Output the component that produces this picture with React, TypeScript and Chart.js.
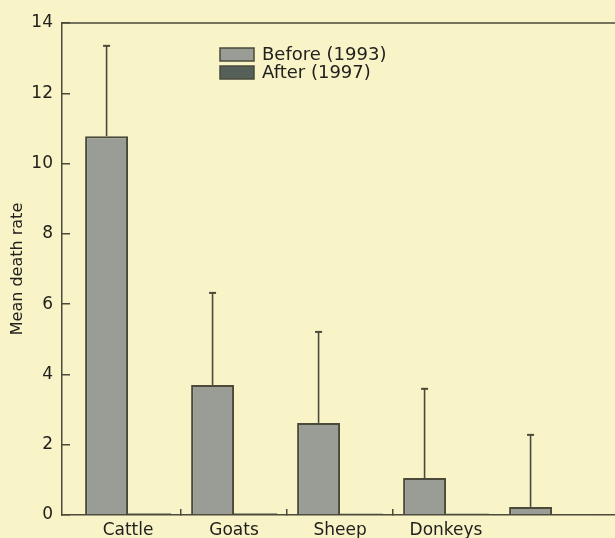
import React, { useEffect, useRef } from 'react';
import { Chart, registerables } from 'chart.js';

Chart.register(...registerables);

const categories = ['Cattle', 'Goats', 'Sheep', 'Donkeys', ''];
const seriesLabels = ['Before (1993)', 'After (1997)'];
const beforeValues = [10.78, 3.7, 2.62, 1.05, 0.23];
const beforeErrorTops = [13.35, 6.32, 5.21, 3.59, 2.28];
const afterValues = [0.05, 0.05, 0.04, 0.04, 0.03];
const yTicks = [0, 2, 4, 6, 8, 10, 12, 14];
const categoryBoundaries = [1, 2, 3];

const BG = '#f8f4c8';
const AXIS = '#4a493a';
const TEXT = '#22211d';
const BEFORE_FILL = '#9a9d96';
const AFTER_FILL = '#56605a';
const FONT = 'DejaVu Sans';

const X_MIN = -0.123;
const X_MAX = 5.094;

const bgPlugin = {
  id: 'bg',
  beforeDraw(chart: any) {
    const { ctx, width, height } = chart;
    ctx.save();
    ctx.fillStyle = BG;
    ctx.fillRect(0, 0, width, height);
    ctx.restore();
  },
};

const framePlugin = {
  id: 'frame',
  afterDraw(chart: any) {
    const { ctx, chartArea } = chart;
    ctx.save();
    ctx.strokeStyle = AXIS;
    ctx.lineWidth = 1.5;
    ctx.beginPath();
    ctx.moveTo(chartArea.left, chartArea.top);
    ctx.lineTo(chartArea.right, chartArea.top);
    ctx.stroke();
    ctx.restore();
  },
};

const errorBarPlugin = {
  id: 'errorBars',
  afterDatasetsDraw(chart: any) {
    const meta = chart.getDatasetMeta(0);
    const y = chart.scales.y;
    const ctx = chart.ctx;
    ctx.save();
    ctx.strokeStyle = AXIS;
    meta.data.forEach((bar: any, i: number) => {
      const top = y.getPixelForValue(beforeErrorTops[i]);
      ctx.lineWidth = 1.6;
      ctx.beginPath();
      ctx.moveTo(bar.x, bar.y);
      ctx.lineTo(bar.x, top);
      ctx.stroke();
      ctx.lineWidth = 2;
      ctx.beginPath();
      ctx.moveTo(bar.x - 3.5, top);
      ctx.lineTo(bar.x + 3.5, top);
      ctx.stroke();
    });
    ctx.restore();
  },
};

const legendPlugin = {
  id: 'customLegend',
  afterDraw(chart: any) {
    const { ctx, chartArea } = chart;
    const left = chartArea.left + 158;
    const top = chartArea.top + 25;
    const rowH = 18;
    ctx.save();
    ctx.font = `18px "${FONT}"`;
    ctx.textBaseline = 'middle';
    chart.data.datasets.forEach((ds: any, i: number) => {
      const y = top + i * rowH;
      ctx.fillStyle = ds.backgroundColor;
      ctx.fillRect(left, y, 34, 13);
      ctx.strokeStyle = AXIS;
      ctx.lineWidth = 1.5;
      ctx.strokeRect(left, y, 34, 13);
      ctx.fillStyle = TEXT;
      ctx.fillText(ds.label, left + 42, y + 7);
    });
    ctx.restore();
  },
};

export default function App() {
  const ref = useRef<HTMLCanvasElement | null>(null);

  useEffect(() => {
    document.body.style.margin = '0';
    document.body.style.background = BG;
    if (!ref.current) return;
    const chart = new Chart(ref.current, {
      type: 'bar',
      data: {
        datasets: [
          {
            label: seriesLabels[0],
            data: beforeValues.map((v, i) => ({ x: i + 0.5, y: v })),
            backgroundColor: BEFORE_FILL,
            borderColor: AXIS,
            borderWidth: 2,
          },
          {
            label: seriesLabels[1],
            data: afterValues.map((v, i) => ({ x: i + 0.5, y: v })),
            backgroundColor: AFTER_FILL,
            borderColor: '#3e4640',
            borderWidth: 1,
          },
        ],
      },
      options: {
        animation: false,
        responsive: false,
        devicePixelRatio: 1,
        layout: { padding: { top: 23, left: 0, right: 0, bottom: 0 } },
        datasets: { bar: { categoryPercentage: 0.81, barPercentage: 1.0, grouped: true } },
        plugins: { legend: { display: false }, tooltip: { enabled: false } },
        scales: {
          x: {
            type: 'linear',
            position: 'bottom',
            offset: false,
            min: X_MIN,
            max: X_MAX,
            weight: 0,
            afterBuildTicks: (s: any) => {
              s.ticks = categoryBoundaries.map((v) => ({ value: v }));
            },
            ticks: { display: false },
            grid: {
              offset: false,
              drawOnChartArea: false,
              drawTicks: true,
              tickLength: -6,
              color: AXIS,
              lineWidth: 1.5,
            },
            border: { display: true, color: AXIS, width: 1.5 },
            afterFit: (s: any) => {
              s.height = 0;
              s.paddingLeft = 0;
              s.paddingRight = 0;
            },
          },
          xl: {
            type: 'linear',
            position: 'bottom',
            offset: false,
            min: X_MIN,
            max: X_MAX,
            weight: 1,
            afterBuildTicks: (s: any) => {
              s.ticks = categories.map((_, i) => ({ value: i + 0.5 }));
            },
            ticks: {
              autoSkip: false,
              maxRotation: 0,
              padding: 5,
              color: TEXT,
              font: { family: FONT, size: 17 },
              callback: (v: any) => categories[Math.floor(Number(v))] ?? '',
            },
            grid: { display: false, drawTicks: false, offset: false },
            border: { display: false },
            afterFit: (s: any) => {
              s.height = 23;
              s.paddingLeft = 0;
              s.paddingRight = 0;
            },
          },
          y: {
            type: 'linear',
            min: 0,
            max: 14,
            afterBuildTicks: (s: any) => {
              s.ticks = yTicks.map((v) => ({ value: v }));
            },
            ticks: { padding: 17, color: TEXT, font: { family: FONT, size: 17 } },
            grid: { drawOnChartArea: false, drawTicks: true, tickLength: -8, color: AXIS, lineWidth: 1.5 },
            border: { display: true, color: AXIS, width: 1.5 },
            title: {
              display: true,
              text: 'Mean death rate',
              color: TEXT,
              font: { family: FONT, size: 16 },
              padding: { top: 8, bottom: 0 },
            },
            afterFit: (s: any) => {
              s.width = 62;
              s.paddingTop = 0;
              s.paddingBottom = 0;
            },
          },
        },
      },
      plugins: [bgPlugin, errorBarPlugin, framePlugin, legendPlugin],
    } as any);
    return () => chart.destroy();
  }, []);

  return (
    <canvas
      ref={ref}
      width={615}
      height={538}
      style={{ display: 'block', width: 615, height: 538 }}
    />
  );
}
